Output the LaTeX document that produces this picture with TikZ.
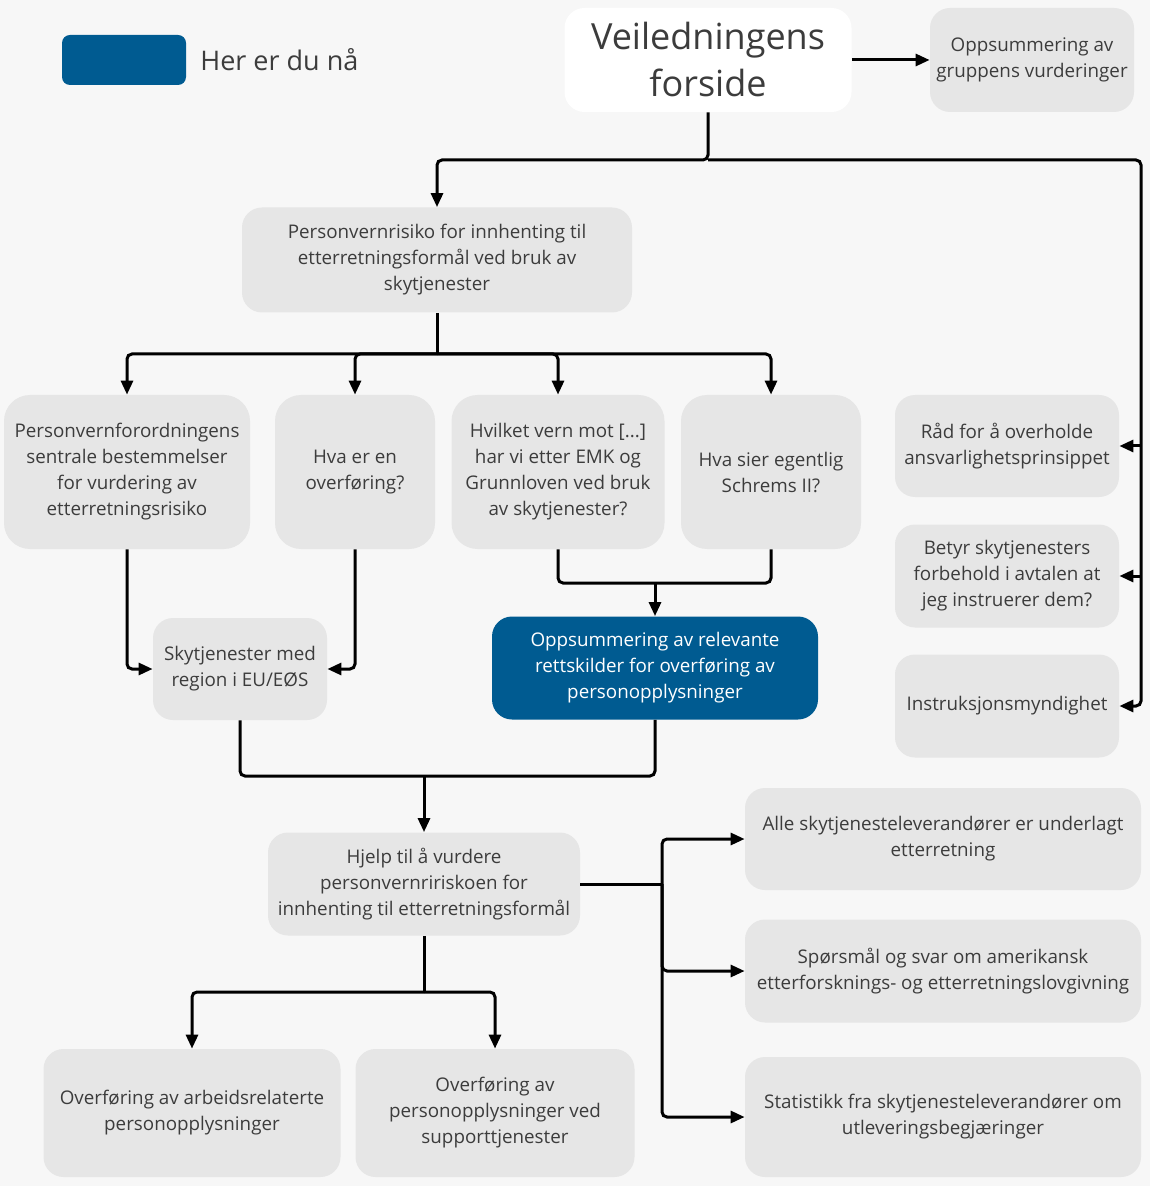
\documentclass[tikz,border=0pt]{standalone}
\usepackage{fontspec}
\setmainfont{Open Sans}
\usetikzlibrary{arrows.meta,positioning}

\definecolor{bggray}{HTML}{F7F7F7}
\definecolor{boxgray}{HTML}{E6E6E6}
\definecolor{herblue}{HTML}{005B91}
\definecolor{txtgray}{HTML}{3C3C3C}

\tikzset{
  box/.style={fill=boxgray, rounded corners=10pt, align=center, text=txtgray,
    inner sep=0pt, font=\fontsize{9.4}{13}\selectfont},
  tallbox/.style={box, rounded corners=13pt},
  herbox/.style={box, fill=herblue, text=white},
  line/.style={line width=1.5pt, rounded corners=2.5pt},
  arr/.style={line, -{Triangle[length=7pt,width=6pt]}}
}

\begin{document}
\begin{tikzpicture}[x=0.5pt,y=-0.5pt]
  \fill[bggray] (0,0) rectangle (1150,1186); %Background
  \useasboundingbox (0,0) rectangle (1150,1186);

  \node[herbox, rounded corners=4pt, minimum width=62pt, minimum height=25pt] (legend) at (124,60) {}; %Legend box
  \node[anchor=west, inner sep=0pt, text=txtgray, font=\fontsize{13.5}{16}\selectfont] (legendtext) at (200,60) {Her er du nå}; %Legend text

  \node[box, fill=white, minimum width=143.5pt, minimum height=52pt, font=\fontsize{18}{23.5}\selectfont] (forside) at (708,60) {Veiledningens\\forside}; %Front page
  \node[box, minimum width=102pt, minimum height=52pt] (oppsum) at (1032,60) {Oppsummering av\\gruppens vurderinger};

  \node[box, minimum width=195pt, minimum height=52.5pt] (risiko) at (437,260) {Personvernrisiko for innhenting til\\etterretningsformål ved bruk av\\skytjenester};

  \node[tallbox, minimum width=123pt, minimum height=77pt] (forordning) at (127,472) {Personvernforordningens\\sentrale bestemmelser\\for vurdering av\\etterretningsrisiko};
  \node[tallbox, minimum width=80pt, minimum height=77pt] (overforing) at (355,472) {Hva er en\\overføring?};
  \node[tallbox, minimum width=106.5pt, minimum height=77pt] (vern) at (558,472) {Hvilket vern mot [...]\\har vi etter EMK og\\Grunnloven ved bruk\\av skytjenester?};
  \node[tallbox, minimum width=90pt, minimum height=77pt] (schrems) at (771,472) {Hva sier egentlig\\Schrems II?};

  \node[box, minimum width=112pt, minimum height=51pt] (raad) at (1007,446) {Råd for å overholde\\ansvarlighetsprinsippet};
  \node[box, minimum width=112pt, minimum height=51.5pt] (betyr) at (1007,576) {Betyr skytjenesters\\forbehold i avtalen at\\jeg instruerer dem?};
  \node[box, minimum width=112pt, minimum height=51.5pt] (instruks) at (1007,706) {Instruksjonsmyndighet};

  \node[box, minimum width=87pt, minimum height=51pt] (region) at (240,669) {Skytjenester med\\region i EU/EØS};
  \node[herbox, minimum width=163pt, minimum height=51.5pt] (relevant) at (655,668) {Oppsummering av relevante\\rettskilder for overføring av\\personopplysninger}; %You are here

  \node[box, minimum width=156pt, minimum height=51.5pt] (hjelp) at (424,884) {Hjelp til å vurdere\\personvernririskoen for\\innhenting til etterretningsformål};

  \node[box, minimum width=198pt, minimum height=51pt] (alle) at (943,839) {Alle skytjenesteleverandører er underlagt\\etterretning};
  \node[box, minimum width=198pt, minimum height=51.5pt] (sporsmal) at (943,971) {Spørsmål og svar om amerikansk\\etterforsknings- og etterretningslovgivning};
  \node[box, minimum width=198pt, minimum height=60pt] (statistikk) at (943,1117) {Statistikk fra skytjenesteleverandører om\\utleveringsbegjæringer};

  \node[box, minimum width=148.5pt, minimum height=64pt] (arbeid) at (192,1113) {Overføring av arbeidsrelaterte\\personopplysninger};
  \node[box, minimum width=139.5pt, minimum height=64pt] (support) at (495,1113) {Overføring av\\personopplysninger ved\\supporttjenester};

  \coordinate (topbus) at (708,160);
  \coordinate (rightbus) at (1141,160);
  \coordinate (riskbus) at (437,354);
  \coordinate (vernbus) at (655,583);
  \coordinate (hjelpbus) at (424,776);
  \coordinate (sidebus) at (662,884);
  \coordinate (bottombus) at (424,992);

  \draw[arr] (forside.east) -- (oppsum.west); %Front page to summary
  \draw[arr] (forside.south) -- (topbus) -| (risiko.north); %Front page to risk
  \draw[arr] (topbus) -- (rightbus) |- (instruks.east); %Right bus
  \draw[arr] (rightbus |- raad.east) -- (raad.east);
  \draw[arr] (rightbus |- betyr.east) -- (betyr.east);

  \draw[line] (risiko.south) -- (riskbus); %Risk to second row
  \draw[arr] (riskbus) -| (forordning.north);
  \draw[arr] (riskbus) -| (overforing.north);
  \draw[arr] (riskbus) -| (vern.north);
  \draw[arr] (riskbus) -| (schrems.north);

  \draw[arr] (forordning.south) |- (region.west); %Into region
  \draw[arr] (overforing.south) |- (region.east);

  \draw[line] (vern.south) |- (vernbus) -| (schrems.south); %Into summary
  \draw[arr] (vernbus) -- (relevant.north);

  \draw[line] (region.south) |- (hjelpbus) -| (relevant.south); %Into help
  \draw[arr] (hjelpbus) -- (hjelp.north);

  \draw[line] (hjelp.east) -- (sidebus); %Help to right column
  \draw[arr] (sidebus) |- (alle.west);
  \draw[arr] (sidebus) |- (sporsmal.west);
  \draw[arr] (sidebus) |- (statistikk.west);

  \draw[line] (hjelp.south) -- (bottombus); %Help to bottom row
  \draw[arr] (bottombus) -| (arbeid.north);
  \draw[arr] (bottombus) -| (support.north);
\end{tikzpicture}
\end{document}
